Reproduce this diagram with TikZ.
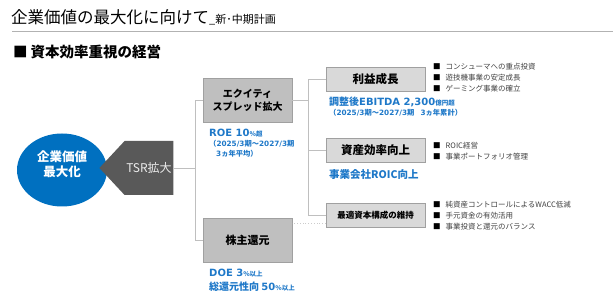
\documentclass[tikz,border=0pt]{standalone}
\usepackage{fontspec}
\setmainfont{Noto Sans CJK JP}
\newfontfamily\latinfont{DejaVu Sans}
\usepackage{xcolor}
\usepackage{tikz}
\usetikzlibrary{shapes.geometric, shapes.symbols, positioning}

\definecolor{valueblue}{RGB}{0,112,192}
\definecolor{kpiblue}{RGB}{30,120,200}
\definecolor{boxdark}{RGB}{191,191,191}
\definecolor{boxlight}{RGB}{217,217,217}
\definecolor{boxedge}{RGB}{160,160,160}
\definecolor{tsrgray}{RGB}{89,89,89}
\definecolor{bullettext}{RGB}{64,64,64}

\newcommand{\lat}[1]{{\latinfont #1}}
\newcommand{\unit}[1]{{\fontsize{6.5}{8}\selectfont #1}}
\newcommand{\blt}{{\color{black}■}\hspace{5pt}}

\begin{document}
\begin{tikzpicture}[x=1pt, y=-1pt,
    mainbox/.style={draw=boxedge, fill=boxdark, minimum width=89pt, minimum height=44pt, align=center, inner sep=0pt, font=\bfseries\fontsize{10}{13}\selectfont},
    subbox/.style={draw=boxedge, fill=boxlight, minimum width=99pt, minimum height=24pt, inner sep=0pt, font=\bfseries\fontsize{11.5}{13}\selectfont},
    kpi/.style={anchor=west, inner sep=0pt, text=kpiblue, font=\bfseries\fontsize{10}{12}\selectfont},
    kpi_small/.style={anchor=west, inner sep=0pt, text=kpiblue, font=\bfseries\fontsize{7.3}{9}\selectfont},
    bullets/.style={anchor=west, inner sep=0pt, align=left, text=bullettext, font=\fontsize{7.5}{11}\selectfont},
    link_line/.style={draw=black!25, line width=0.8pt}
]
    \useasboundingbox (0,0) rectangle (613,299);

    % Title and heading
    \node (title) [anchor=west, inner sep=0pt] at (11,17) {\fontsize{16.5}{20}\selectfont 企業価値の最大化に向けて\fontsize{11}{14}\selectfont\_新･中期計画};
    \draw [draw=black!30, line width=0.8pt] (12,31.5) -- (613,31.5);
    \node (heading) [anchor=west, inner sep=0pt, font=\bfseries\fontsize{14.5}{17}\selectfont] at (13,52) {■\hspace{3pt}資本効率重視の経営};

    % Goal and driver
    \node (goal) [ellipse, fill=valueblue, minimum width=90pt, minimum height=73pt, inner sep=0pt, align=center, text=white, font=\bfseries\fontsize{12.5}{15}\selectfont] at (62,170) {企業価値\\最大化\\[-3pt]};
    \node (tsr) [signal, signal to=west, signal pointer angle=94, fill=tsrgray, minimum width=74pt, minimum height=54pt, inner sep=0pt, text=black!8, font=\fontsize{12}{14}\selectfont] at (149,168) {TSR拡大};

    % First level
    \node (equity) [mainbox] at (247.5,100.5) {エクイティ\\スプレッド拡大};
    \node (returns) [mainbox, font=\bfseries\fontsize{11}{13}\selectfont] at (247.5,240) {株主還元};

    % Second level
    \node (profit) [subbox] at (375.5,79) {利益成長};
    \node (assets) [subbox] at (375.5,150.5) {資産効率向上};
    \node (capital) [subbox, font=\bfseries\fontsize{8.5}{10}\selectfont] at (375.5,215) {最適資本構成の維持};

    % Connectors
    \draw [link_line] (equity.west) -- ++(-7,0) coordinate (split_left) |- (returns.west);
    \draw [link_line] (tsr.east) -- (tsr.east -| split_left);
    \draw [link_line] (profit.west) -- ++(-17,0) coordinate (split_right) |- (capital.west);
    \draw [link_line] (equity.east) -- (equity.east -| split_right);
    \draw [link_line] (assets.west) -- (assets.west -| split_right);
    \draw [draw=black!20, line width=0.8pt, dotted] ([yshift=-8pt]capital.west) -- ([yshift=-8pt]capital.west -| returns.east);

    % Targets
    \node (roe) [kpi] at (209,133) {\lat{ROE 10}\unit{\%超}};
    \node (roe_term) [kpi_small] at (209,144) {（\lat{2025/3}期～\lat{2027/3}期};
    \node (roe_avg) [kpi_small] at (216,154) {\lat{3}ヵ年平均）};
    \node (ebitda) [kpi] at (329,102) {調整後\lat{EBITDA 2,300}\unit{億円超}};
    \node (ebitda_term) [kpi_small] at (329,113) {（\lat{2025/3}期～\lat{2027/3}期\hspace{6pt}\lat{3}ヵ年累計）};
    \node (roic) [kpi, font=\bfseries\fontsize{10.5}{12}\selectfont] at (329,175) {事業会社ROIC向上};
    \node (doe) [kpi] at (209,273) {\lat{DOE 3}\unit{\%以上}};
    \node (payout) [kpi] at (209,287) {総還元性向 \lat{50}\unit{\%以上}};

    % Measures
    \node (profit_list) [bullets] at (433,78) {\blt コンシューマへの重点投資\\\blt 遊技機事業の安定成長\\\blt ゲーミング事業の確立};
    \node (assets_list) [bullets] at (433,151.5) {\blt ROIC経営\\\blt 事業ポートフォリオ管理};
    \node (capital_list) [bullets] at (433,216) {\blt 純資産コントロールによるWACC低減\\\blt 手元資金の有効活用\\\blt 事業投資と還元のバランス};
\end{tikzpicture}
\end{document}
